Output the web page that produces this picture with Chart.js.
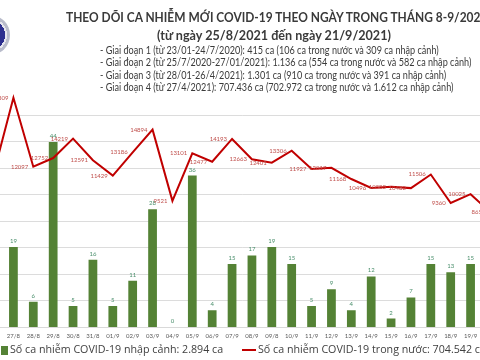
<!DOCTYPE html>
<html lang="vi">
<head>
<meta charset="utf-8">
<script src="https://cdn.jsdelivr.net/npm/chart.js@4.4.1/dist/chart.umd.min.js"></script>
<style>
  html, body { margin: 0; padding: 0; background: #fff; }
  #wrap { position: relative; width: 480px; height: 360px; overflow: hidden; background: #fff; }
  #chart { position: absolute; left: -18px; top: 0; }
  .t { position: absolute; white-space: nowrap; color: #3a3a3a; font-family: Lato, sans-serif; transform-origin: left center; }
  .head { font-weight: bold; font-size: 13px; }
  .note { left: 100px; font-size: 10.5px; transform: scaleX(0.865); }
  .logo { position: absolute; left: -30px; top: 15px; width: 40px; height: 40px; border-radius: 50%;
          background: radial-gradient(circle, #2d2f8f 0 15px, #e6e6ee 15px 17px, #b9bccb 17px 20px); }
  #legend { position: absolute; left: 0; top: 342px; font-family: "Open Sans", sans-serif; font-size: 10.7px; color: #404040; white-space: nowrap; }
  .key { position: absolute; top: 0; white-space: nowrap; }
  .sw { display: inline-block; vertical-align: middle; margin-right: 2px; }
</style>
</head>
<body>
<div id="wrap">
  <canvas id="chart" width="520" height="360"></canvas>
  <div class="logo"></div>
  <div class="t head" style="top:9px;left:66px;transform:scaleX(0.918)">THEO DÕI CA NHIỄM MỚI COVID-19 THEO NGÀY TRONG THÁNG 8-9/2021</div>
  <div class="t head" style="top:26px;left:157px;font-size:14px;transform:scaleX(0.9)">(từ ngày 25/8/2021 đến ngày 21/9/2021)</div>
  <div class="t note" style="top:44px">- Giai đoạn 1 (từ 23/01-24/7/2020): 415 ca (106 ca trong nước và 309 ca nhập cảnh)</div>
  <div class="t note" style="top:56px">- Giai đoạn 2 (từ 25/7/2020-27/01/2021): 1.136 ca (554 ca trong nước và 582 ca nhập cảnh)</div>
  <div class="t note" style="top:69px">- Giai đoạn 3 (từ 28/01-26/4/2021): 1.301 ca (910 ca trong nước và 391 ca nhập cảnh)</div>
  <div class="t note" style="top:81px">- Giai đoạn 4 (từ 27/4/2021): 707.436 ca (702.972 ca trong nước và 1.612 ca nhập cảnh)</div>
  <div id="legend"></div>
</div>
<script>
const days = ["26/8", "27/8", "28/8", "29/8", "30/8", "31/8", "01/9", "02/9", "03/9", "04/9", "05/9", "06/9", "07/9",
  "08/9", "09/8", "10/9", "11/9", "12/9", "13/9", "14/9", "15/9", "16/9", "17/9", "18/9", "19/9", "20/9"];
const importedCases = [null, 19, 6, 44, 5, 16, 5, 11, 28, 0, 36, 4, 15, 17, 19, 15, 5, 9, 4, 12, 2, 7, 15, 13, 15, null];
const domesticCases = [11560, 17309, 12097, 12752, 14219, 12591, 11429, 13186, 14894, 9521, 13101, 12477, 14193,
  12663, 12401, 13306, 11927, 12017, 11168, 10496, 10583, 10482, 11506, 9360, 10025, 8650];
const seriesNames = ["Số ca nhiễm COVID-19 nhập cảnh: 2.894 ca", "Số ca nhiễm COVID-19 trong nước: 704.542 ca"];

const green = "#548235";
const red = "#c00000";

// draws the numbers next to bars and line points
const valueLabels = {
  id: "valueLabels",
  afterDatasetsDraw(chart) {
    const ctx = chart.ctx;
    ctx.save();
    ctx.font = "6px Lato";
    chart.data.datasets.forEach((ds, i) => {
      chart.getDatasetMeta(i).data.forEach((el, j) => {
        const v = ds.data[j];
        if (v === null) return;
        if (ds.type === "bar") {
          ctx.fillStyle = "#4a8f6c";
          ctx.textAlign = "center";
          ctx.textBaseline = "bottom";
          ctx.fillText(v, el.x, el.y - 3);
        } else {
          ctx.fillStyle = "#c0504d";
          ctx.textAlign = "right";
          ctx.textBaseline = "middle";
          ctx.fillText(v, el.x - 5, el.y);
        }
      });
    });
    ctx.restore();
  },
};

new Chart(document.getElementById("chart"), {
  data: {
    labels: days,
    datasets: [
      {
        type: "bar",
        label: seriesNames[0],
        data: importedCases,
        backgroundColor: green,
        yAxisID: "yb",
        barPercentage: 0.44,
        categoryPercentage: 1,
        order: 1,
      },
      {
        type: "line",
        label: seriesNames[1],
        data: domesticCases,
        borderColor: red,
        borderWidth: 2,
        pointRadius: 0,
        tension: 0,
        yAxisID: "y",
        order: 0,
      },
    ],
  },
  options: {
    responsive: false,
    animation: false,
    layout: { padding: { top: 88.5, left: 0, right: 0, bottom: 0 } },
    plugins: { legend: { display: false }, tooltip: { enabled: false } },
    scales: {
      x: {
        grid: { display: false, drawTicks: false },
        border: { display: true, color: "#d9d9d9" },
        ticks: { font: { family: "Lato", size: 6 }, color: "#595959", padding: 5, maxRotation: 0, autoSkip: false },
        afterFit: (s) => { s.height = 33; },
      },
      y: {
        position: "left",
        min: 0,
        max: 18000,
        ticks: { display: false, stepSize: 2000 },
        grid: {
          drawTicks: false,
          color: (c) => (c.tick && c.tick.value === 18000 ? "rgba(0,0,0,0)" : "#dcdcdc"),
        },
        border: { display: false },
        afterFit: (s) => { s.width = 0; },
      },
      yb: {
        display: false,
        min: 0,
        max: 56.7,
      },
    },
  },
  plugins: [valueLabels],
});

// legend from the series names
const legend = document.getElementById("legend");
legend.innerHTML =
  '<span class="key" style="left:1px"><span class="sw" style="width:7px;height:9px;background:' + green + '"></span>' + seriesNames[0] + "</span>" +
  '<span class="key" style="left:242px"><span class="sw" style="width:14px;height:2px;background:' + red + '"></span>' + seriesNames[1] + "</span>";
</script>
</body>
</html>
